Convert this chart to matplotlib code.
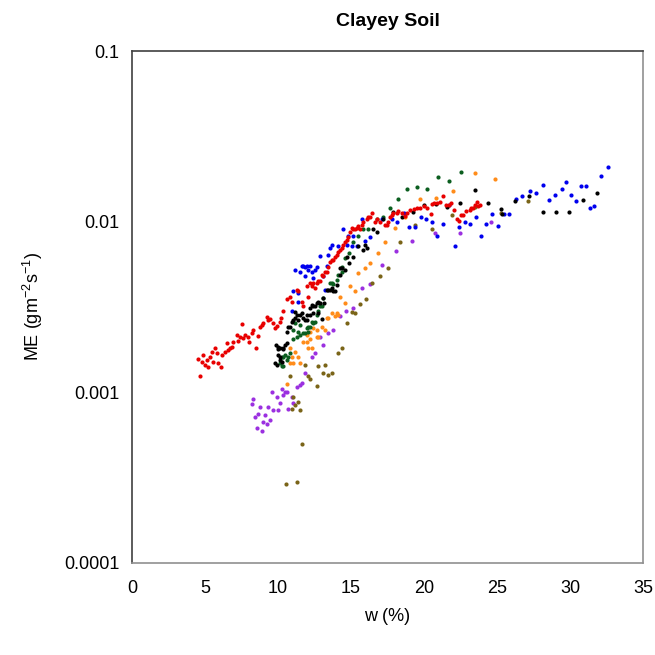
import matplotlib
matplotlib.use("Agg")
import matplotlib.pyplot as plt
from matplotlib.ticker import FixedLocator, FuncFormatter, NullLocator

plt.rcParams['font.family'] = ['Liberation Sans', 'DejaVu Sans']
plt.rcParams['mathtext.default'] = 'regular'

# moisture content w (%) and evaporation rate ME (g m-2 s-1) per test series
red_w = [4.54, 4.66, 4.77, 4.86, 5.0, 5.12, 5.2, 5.34, 5.46, 5.55, 5.68, 5.80, 5.89, 6.10, 6.14,
         6.37, 6.49, 6.58, 6.71, 6.83, 6.92, 7.17, 7.26, 7.40, 7.51, 7.60, 7.74, 7.95, 8.01, 8.20,
         8.29, 8.49, 8.63, 8.77, 8.88, 8.97, 9.23, 9.32, 9.45, 9.66, 9.8, 9.93, 10.14, 10.2, 10.34,
         10.6, 10.82, 10.96, 11.28, 11.37, 11.62, 11.71, 11.97, 12.05, 12.19, 12.31, 12.40, 12.53,
         12.65, 12.74, 12.88, 12.99, 13.08, 13.22, 13.34, 13.42, 13.56, 13.68, 13.77, 13.90, 14.02,
         14.11, 14.25, 14.36, 14.45, 14.59, 14.71, 14.79, 14.93, 15.05, 15.14, 15.27, 15.39, 15.48,
         15.62, 15.73, 15.82, 16.08, 16.16, 16.30, 16.42, 16.64, 16.78, 16.99, 17.33, 17.45, 17.53,
         17.67, 17.79, 17.88, 18.13, 18.22, 18.47, 18.70, 18.84, 19.04, 19.29, 19.52, 19.73, 19.99,
         20.21, 20.45, 20.55, 20.68, 20.92, 21.1, 21.27, 21.51, 21.71, 21.85, 22.08, 22.26, 22.43,
         22.53, 22.67, 22.90, 23.13, 23.25, 23.36, 23.48, 23.6, 23.7, 23.84]
red_me = [0.00157, 0.00124, 0.00151, 0.00166, 0.00145, 0.00155, 0.0014, 0.00162, 0.00173, 0.00151,
          0.00183, 0.00171, 0.00149, 0.00140, 0.00166, 0.00173, 0.00195, 0.00178, 0.00183, 0.00185,
          0.00198, 0.00218, 0.0020, 0.00212, 0.00252, 0.00209, 0.00218, 0.00212, 0.00198, 0.00224,
          0.00233, 0.00183, 0.00215, 0.00243, 0.00249, 0.00256, 0.00277, 0.00265, 0.00270, 0.00256,
          0.00239, 0.00246, 0.00259, 0.00274, 0.0030, 0.0035, 0.0036, 0.0034, 0.0040, 0.0039, 0.0034,
          0.0032, 0.0042, 0.0036, 0.0044, 0.0042, 0.0044, 0.0041, 0.0044, 0.0045, 0.0045, 0.0049,
          0.0048, 0.0051, 0.0051, 0.0054, 0.0058, 0.0060, 0.0060, 0.0062, 0.0064, 0.0066, 0.0068,
          0.0070, 0.0073, 0.0076, 0.0078, 0.0081, 0.0087, 0.0092, 0.0090, 0.0090, 0.0092, 0.0094,
          0.0090, 0.0096, 0.0100, 0.0103, 0.0106, 0.0107, 0.0113, 0.0100, 0.0103, 0.0100, 0.0096,
          0.0096, 0.0100, 0.0107, 0.0110, 0.0113, 0.0113, 0.0116, 0.0113, 0.0108, 0.0113, 0.0117,
          0.0118, 0.0120, 0.0121, 0.0124, 0.0121, 0.0111, 0.0127, 0.0128, 0.0128, 0.0130, 0.0142,
          0.0126, 0.0126, 0.0129, 0.0117, 0.0103, 0.0101, 0.0110, 0.0110, 0.0116, 0.0117, 0.0120,
          0.0121, 0.0126, 0.0130, 0.0124, 0.0126]

blue_w = [10.94, 11.03, 11.16, 11.37, 11.37, 11.51, 11.62, 11.71, 11.85, 11.85, 11.97, 12.05, 12.19,
          12.31, 12.40, 12.53, 12.65, 12.88, 13.08, 13.22, 13.34, 13.42, 13.56, 13.68, 14.11, 14.45,
          14.71, 14.79, 15.05, 15.14, 15.39, 15.73, 15.96, 16.30, 17.10, 17.79, 18.13, 18.63, 19.0,
          19.4, 19.79, 20.17, 20.55, 20.92, 21.27, 21.71, 22.15, 22.43, 22.78, 23.13, 23.55, 23.90,
          24.27, 24.64, 25.04, 25.46, 25.81, 26.27, 26.74, 27.28, 27.67, 28.15, 28.56, 29.0, 29.42,
          29.73, 30.05, 30.41, 30.75, 31.12, 31.36, 31.64, 32.1, 32.57]
blue_me = [0.0030, 0.0039, 0.0052, 0.0038, 0.0034, 0.0051, 0.0055, 0.0055, 0.0054, 0.0048, 0.0055,
           0.0052, 0.0055, 0.0051, 0.0047, 0.0052, 0.0054, 0.0063, 0.0048, 0.0040, 0.0055, 0.0064,
           0.0070, 0.0073, 0.0072, 0.0091, 0.0073, 0.0082, 0.0072, 0.0082, 0.0072, 0.0103, 0.0077,
           0.0081, 0.0104, 0.0104, 0.0099, 0.0113, 0.0093, 0.0093, 0.0106, 0.0104, 0.0099, 0.0082,
           0.0097, 0.0126, 0.0072, 0.0093, 0.0100, 0.0097, 0.0106, 0.0082, 0.0097, 0.0111, 0.0094,
           0.0111, 0.0111, 0.0136, 0.0142, 0.0152, 0.0147, 0.0163, 0.0134, 0.0144, 0.0156, 0.0171,
           0.0144, 0.0132, 0.0161, 0.0161, 0.0120, 0.0124, 0.0185, 0.0208]

black_w = [9.79, 9.86, 9.91, 10.02, 10.02, 10.02, 10.14, 10.14, 10.14, 10.25, 10.36, 10.36, 10.48,
           10.6, 10.6, 10.71, 10.82, 10.94, 11.05, 11.16, 11.16, 11.28, 11.39, 11.51, 11.62, 11.71,
           11.85, 11.97, 11.97, 12.19, 12.19, 12.31, 12.42, 12.42, 12.53, 12.65, 12.76, 12.76, 12.88,
           12.99, 13.1, 13.15, 13.34, 13.45, 13.56, 13.68, 13.79, 13.9, 14.02, 14.25, 14.25, 14.36,
           14.59, 14.71, 14.88, 15.16, 15.5, 15.84, 15.96, 16.08, 16.53, 16.76, 17.21, 17.9, 18.47,
           19.25, 19.97, 20.79, 21.58, 22.47, 23.46, 24.41, 25.27, 25.34, 26.23, 27.21, 28.15, 29.03,
           29.93, 30.86, 31.87]
black_me = [0.00149, 0.0019, 0.00145, 0.0018, 0.00166, 0.00185, 0.00183, 0.00162, 0.00155, 0.00151,
            0.0018, 0.00183, 0.0019, 0.00195, 0.00227, 0.00243, 0.0024, 0.00259, 0.00266, 0.00274,
            0.00297, 0.00285, 0.00266, 0.00285, 0.00293, 0.00274, 0.00266, 0.00285, 0.00266, 0.00313,
            0.00285, 0.00327, 0.00293, 0.0032, 0.0032, 0.00335, 0.00293, 0.0034, 0.00335, 0.0027,
            0.00359, 0.00335, 0.0040, 0.0040, 0.0040, 0.0041, 0.0039, 0.0039, 0.00428, 0.0049, 0.00538,
            0.00538, 0.00523, 0.0062, 0.00575, 0.0062, 0.0072, 0.00685, 0.0073, 0.0070, 0.0090, 0.0087,
            0.0103, 0.0114, 0.0107, 0.0114, 0.0126, 0.0127, 0.0122, 0.0128, 0.0154, 0.0128, 0.0118,
            0.0111, 0.0133, 0.0141, 0.0114, 0.0114, 0.0114, 0.0134, 0.0147]

green_w = [10.14, 10.25, 10.25, 10.36, 10.36, 10.48, 10.6, 10.71, 10.82, 11.05, 11.05, 11.16, 11.28,
           11.39, 11.51, 11.51, 11.73, 11.85, 11.97, 12.08, 12.08, 12.19, 12.31, 12.42, 12.53, 12.65,
           12.76, 12.88, 12.99, 13.1, 13.56, 13.68, 13.77, 14.02, 14.13, 14.36, 14.4, 14.59, 14.88,
           15.16, 15.5, 15.84, 16.18, 16.76, 17.21, 17.67, 18.24, 18.84, 19.52, 20.21, 20.96, 21.71,
           22.5]
green_me = [0.00149, 0.00142, 0.0016, 0.0016, 0.00142, 0.00166, 0.00155, 0.00162, 0.00171, 0.00204,
            0.00232, 0.00256, 0.0021, 0.00227, 0.00218, 0.00249, 0.00224, 0.00224, 0.00239, 0.00227,
            0.00243, 0.00243, 0.00259, 0.00256, 0.00259, 0.00285, 0.0030, 0.0032, 0.0032, 0.00359,
            0.0044, 0.0044, 0.0043, 0.00457, 0.0049, 0.0051, 0.0054, 0.00616, 0.00658, 0.0076, 0.00828,
            0.0091, 0.0090, 0.0103, 0.0107, 0.0121, 0.0135, 0.0156, 0.0160, 0.0156, 0.0183, 0.0174,
            0.0196]

orange_w = [10.6, 10.82, 10.82, 10.94, 11.05, 11.16, 11.39, 11.51, 11.73, 11.97, 11.97, 12.08, 12.19,
            12.19, 12.31, 12.42, 12.65, 12.65, 12.76, 12.99, 13.22, 13.34, 13.45, 13.68, 13.9, 14.02,
            14.13, 14.25, 14.59, 14.93, 15.27, 15.5, 15.96, 16.3, 16.87, 17.33, 18.01, 18.7, 19.73,
            20.79, 22.02, 23.46, 24.86]
orange_me = [0.00112, 0.00183, 0.00149, 0.00162, 0.00149, 0.00173, 0.00162, 0.00149, 0.00198, 0.00198,
             0.00218, 0.00183, 0.00204, 0.00227, 0.00183, 0.00239, 0.00212, 0.00233, 0.00212, 0.00243,
             0.00233, 0.00274, 0.00274, 0.00293, 0.00281, 0.00293, 0.00285, 0.00364, 0.00335, 0.0042,
             0.0039, 0.00502, 0.00538, 0.00575, 0.00658, 0.00764, 0.0092, 0.0107, 0.0135, 0.0138,
             0.0152, 0.0194, 0.0179]

purple_w = [8.2, 8.31, 8.42, 8.54, 8.65, 8.77, 8.88, 8.99, 9.11, 9.23, 9.34, 9.45, 9.57, 9.68, 9.91,
            10.02, 10.14, 10.25, 10.36, 10.48, 10.6, 10.71, 10.94, 11.05, 11.28, 11.51, 11.62, 11.85,
            12.31, 12.53, 12.88, 13.1, 13.45, 13.79, 14.25, 14.66, 15.14, 15.72, 16.3, 17.1, 18.06,
            19.18, 20.75, 22.47, 24.6]
purple_me = [0.00085, 0.00091, 0.00072, 0.00062, 0.00075, 0.00082, 0.00059, 0.00067, 0.00074, 0.00065,
             0.00082, 0.00069, 0.00101, 0.00079, 0.00094, 0.00079, 0.00087, 0.00104, 0.00097, 0.00101,
             0.00101, 0.0008, 0.00094, 0.00087, 0.00108, 0.0011, 0.00114, 0.0013, 0.0016, 0.00171,
             0.0021, 0.0019, 0.00224, 0.00233, 0.00279, 0.0030, 0.00313, 0.0041, 0.00433, 0.0056,
             0.00676, 0.00769, 0.00857, 0.00857, 0.0100]

olive_w = [10.58, 11.3, 11.64, 10.82, 10.94, 11.05, 11.16, 11.39, 11.51, 11.85, 12.08, 12.19, 12.65,
           12.76, 13.1, 13.22, 13.45, 13.68, 14.13, 14.36, 14.71, 15.05, 15.27, 15.62, 16.03, 16.42,
           16.99, 17.55, 18.36, 19.35, 20.55, 21.92, 23.49, 25.3, 27.12]
olive_me = [0.00029, 0.00030, 0.0005, 0.00125, 0.0008, 0.00094, 0.00084, 0.00088, 0.00079, 0.00145,
            0.00124, 0.00119, 0.00109, 0.00143, 0.0013, 0.00145, 0.00127, 0.0013, 0.00171, 0.00183,
            0.00256, 0.00297, 0.00293, 0.00331, 0.0035, 0.0044, 0.00483, 0.00538, 0.00764, 0.00954,
            0.0090, 0.0110, 0.0122, 0.0112, 0.0132]

series = [
    (purple_w, purple_me, '#9b30e0'),
    (olive_w, olive_me, '#7a6418'),
    (orange_w, orange_me, '#ff8c1a'),
    (green_w, green_me, '#0b5e1f'),
    (blue_w, blue_me, '#0000ee'),
    (black_w, black_me, '#000000'),
    (red_w, red_me, '#e80000'),
]

fig = plt.figure(figsize=(6.55, 6.55), dpi=100)
ax = fig.add_axes([0.2015, 0.1405, 0.7802, 0.7816])

for w, me, col in series:
    ax.scatter(w, me, s=9, c=col, linewidths=0)

ax.set_yscale('log')
ax.set_xlim(0, 35)
ax.set_ylim(0.0001, 0.1)
ax.set_xticks(range(0, 36, 5))
ax.yaxis.set_major_locator(FixedLocator([0.0001, 0.001, 0.01, 0.1]))
ax.yaxis.set_minor_locator(NullLocator())
ax.yaxis.set_major_formatter(FuncFormatter(lambda v, p: f'{v:g}'))
ax.tick_params(axis='x', length=0, pad=12, labelsize=13)
ax.tick_params(axis='y', length=0, pad=9, labelsize=13)

for side in ['left', 'top']:
    ax.spines[side].set_color('#404040')
    ax.spines[side].set_linewidth(1.2)
for side in ['right', 'bottom']:
    ax.spines[side].set_color('#909090')
    ax.spines[side].set_linewidth(1.2)

ax.set_xlabel('w (%)', fontsize=13, labelpad=8)
ax.set_ylabel('ME (gm$^{-2}$s$^{-1}$)', fontsize=13, labelpad=14)
ax.set_title('Clayey Soil', fontsize=14, fontweight='bold', pad=18)

fig.savefig('out.png', dpi=100)
